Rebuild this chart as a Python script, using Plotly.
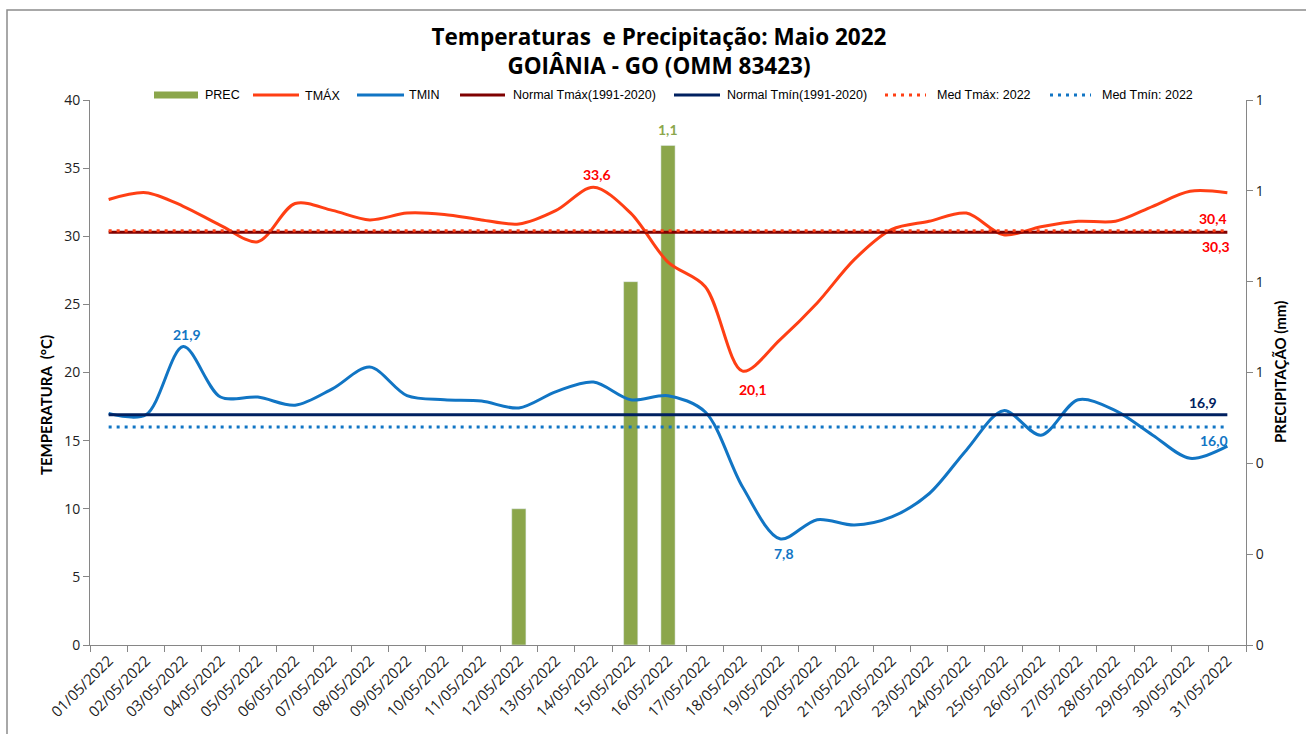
import plotly.graph_objects as go

dates = [f"{d:02d}/05/2022" for d in range(1, 32)]

tmax = [32.7, 33.2, 32.2, 30.8, 29.6, 32.4, 31.9, 31.2, 31.7, 31.6,
        31.2, 30.9, 31.9, 33.6, 31.7, 28.1, 26.3, 20.1, 22.4, 25.1,
        28.3, 30.5, 31.1, 31.7, 30.1, 30.7, 31.1, 31.1, 32.2, 33.3, 33.2]
tmin = [17.0, 16.9, 21.9, 18.2, 18.2, 17.6, 18.8, 20.4, 18.3, 18.0,
        17.9, 17.4, 18.6, 19.3, 18.0, 18.3, 17.1, 11.6, 7.8, 9.2,
        8.8, 9.4, 11.1, 14.3, 17.2, 15.4, 18.0, 17.2, 15.4, 13.7, 14.6]
prec_days = ["12/05/2022", "15/05/2022", "16/05/2022"]
prec_vals = [0.3, 0.8, 1.1]

normal_tmax = 30.3
normal_tmin = 16.9
med_tmax = 30.4
med_tmin = 16.0

series_names = ["PREC", "TMÁX", "TMIN", "Normal Tmáx(1991-2020)", "Normal Tmín(1991-2020)",
                "Med Tmáx: 2022", "Med Tmín: 2022"]

C_TMAX = "#FF3F14"
C_TMIN = "#1175C4"
C_NTMAX = "#7F0000"
C_NTMIN = "#002060"
C_PREC = "#8BA64B"
DOT = "3px,5px"

def fmt(v):
    return f"{v:.1f}".replace(".", ",")

fig = go.Figure()

fig.add_trace(go.Bar(x=prec_days, y=prec_vals, name=series_names[0], marker_color=C_PREC,
                     width=0.38, yaxis="y"))
fig.add_trace(go.Scatter(x=dates, y=tmax, name=series_names[1], mode="lines",
                         line=dict(color=C_TMAX, width=3, shape="spline", smoothing=0.9),
                         yaxis="y2"))
fig.add_trace(go.Scatter(x=dates, y=tmin, name=series_names[2], mode="lines",
                         line=dict(color=C_TMIN, width=3, shape="spline", smoothing=0.9),
                         yaxis="y2"))
fig.add_trace(go.Scatter(x=dates, y=[normal_tmax] * len(dates), name=series_names[3],
                         mode="lines", line=dict(color=C_NTMAX, width=3), yaxis="y2"))
fig.add_trace(go.Scatter(x=dates, y=[normal_tmin] * len(dates), name=series_names[4],
                         mode="lines", line=dict(color=C_NTMIN, width=3), yaxis="y2"))
fig.add_trace(go.Scatter(x=dates, y=[med_tmax] * len(dates), name=series_names[5],
                         mode="lines", line=dict(color=C_TMAX, width=3, dash=DOT), yaxis="y2"))
fig.add_trace(go.Scatter(x=dates, y=[med_tmin] * len(dates), name=series_names[6],
                         mode="lines", line=dict(color=C_TMIN, width=3, dash=DOT), yaxis="y2"))

L, R, T, B = 90, 60, 100, 89
W, H = 1306, 734
pw, ph = W - L - R, H - T - B
def px(xp):
    return (xp - L) / pw
def py(yp):
    return (H - B - yp) / ph

lab_font = dict(family="Lato, Open Sans, sans-serif", size=14)
i_tmax_hi = tmax.index(max(tmax))
i_tmax_lo = tmax.index(min(tmax))
i_tmin_hi = tmin.index(max(tmin))
i_tmin_lo = tmin.index(min(tmin))
ann = [
    dict(x=dates[i_tmax_hi], y=tmax[i_tmax_hi], text=f"<b>{fmt(tmax[i_tmax_hi])}</b>", yanchor="bottom", yshift=2, xshift=4, font=dict(color="#FF0000", **lab_font)),
    dict(x=dates[i_tmax_lo], y=tmax[i_tmax_lo], text=f"<b>{fmt(tmax[i_tmax_lo])}</b>", yanchor="top", yshift=-8, xshift=10, font=dict(color="#FF0000", **lab_font)),
    dict(x=dates[i_tmin_hi], y=tmin[i_tmin_hi], text=f"<b>{fmt(tmin[i_tmin_hi])}</b>", yanchor="bottom", yshift=2, xshift=4, font=dict(color=C_TMIN, **lab_font)),
    dict(x=dates[i_tmin_lo], y=tmin[i_tmin_lo], text=f"<b>{fmt(tmin[i_tmin_lo])}</b>", yanchor="top", yshift=-4, xshift=4, font=dict(color=C_TMIN, **lab_font)),
    dict(x=dates[-1], y=med_tmax, text=f"<b>{fmt(med_tmax)}</b>", yanchor="bottom", yshift=2, xshift=-14, font=dict(color="#FF0000", **lab_font)),
    dict(x=dates[-1], y=normal_tmax, text=f"<b>{fmt(normal_tmax)}</b>", yanchor="top", yshift=-4, xshift=-11, font=dict(color="#FF0000", **lab_font)),
    dict(x=dates[-1], y=normal_tmin, text=f"<b>{fmt(normal_tmin)}</b>", yanchor="bottom", yshift=2, xshift=-24, font=dict(color=C_NTMIN, **lab_font)),
    dict(x=dates[-1], y=med_tmin, text=f"<b>{fmt(med_tmin)}</b>", yanchor="top", yshift=-3, xshift=-13, font=dict(color=C_TMIN, **lab_font)),
]
for a in ann:
    a.update(xref="x", yref="y2", showarrow=False)
ann.append(dict(x=prec_days[-1], y=prec_vals[-1], xref="x", yref="y", text=f"<b>{fmt(prec_vals[-1])}</b>",
                yanchor="bottom", yshift=5, showarrow=False, font=dict(color=C_PREC, **lab_font)))

ax_font = dict(family="Lato, Open Sans, sans-serif", size=15, color="#000")
ann.append(dict(x=px(35), y=py(405), xref="paper", yref="paper", text="<b>TEMPERATURA  (°C)</b>",
                textangle=-90, showarrow=False, font=ax_font))
ann.append(dict(x=px(1291), y=py(372), xref="paper", yref="paper", text="<b>PRECIPITAÇÃO (mm)</b>",
                textangle=-90, showarrow=False, font=ax_font))

# manual legend (symbol x0, x1, text x start) in pixels
leg_y = 95
leg_items = [
    ("bar", C_PREC, None, 154, 198, 203),
    ("line", C_TMAX, None, 253, 299, 303),
    ("line", C_TMIN, None, 357, 404, 407),
    ("line", C_NTMAX, None, 460, 505, 511),
    ("line", C_NTMIN, None, 674, 720, 725),
    ("line", C_TMAX, DOT, 885, 926, 935),
    ("line", C_TMIN, DOT, 1050, 1091, 1100),
]
shapes = [dict(type="rect", xref="paper", yref="paper", x0=px(7), x1=px(1312), y0=py(740), y1=py(10),
               line=dict(color="#8c8c8c", width=1.5), fillcolor="rgba(0,0,0,0)", layer="below")]
for name, (kind, col, dash, x0, x1, xt) in zip(series_names, leg_items):
    if kind == "bar":
        shapes.append(dict(type="rect", xref="paper", yref="paper", x0=px(x0), x1=px(x1),
                           y0=py(leg_y + 3.5), y1=py(leg_y - 3.5), fillcolor=col, line=dict(width=0)))
    else:
        shapes.append(dict(type="line", xref="paper", yref="paper", x0=px(x0), x1=px(x1),
                           y0=py(leg_y), y1=py(leg_y), line=dict(color=col, width=3, dash=dash or "solid")))
    ann.append(dict(x=px(xt), y=py(leg_y), xref="paper", yref="paper", text=name, xanchor="left",
                    yanchor="middle", showarrow=False,
                    font=dict(family="Liberation Sans, Arial, sans-serif", size=12.5, color="#000")))

fig.update_layout(
    width=W, height=H,
    margin=dict(l=L, r=R, t=T, b=B),
    paper_bgcolor="white", plot_bgcolor="white",
    title=dict(text="<b>Temperaturas  e Precipitação: Maio 2022<br>GOIÂNIA - GO (OMM 83423)</b>",
               xref="container", x=659 / W, xanchor="center", y=1 - 45 / H, yanchor="middle",
               font=dict(family="Open Sans, sans-serif", size=22.5, color="#000")),
    showlegend=False,
    xaxis=dict(type="category", categoryorder="array", categoryarray=dates,
               tickangle=-45, tickson="boundaries", ticks="outside", ticklen=6,
               tickcolor="#868686", showline=True, linecolor="#868686", linewidth=1,
               showgrid=False, range=[-0.5, 30.5],
               tickfont=dict(family="Open Sans, sans-serif", size=15, color="#222")),
    yaxis=dict(side="right", range=[0, 1.2], dtick=0.2, tickformat=".0f",
               ticks="outside", ticklen=6, tickcolor="#868686", showline=True,
               linecolor="#868686", showgrid=False, zeroline=False,
               tickfont=dict(family="Open Sans, sans-serif", size=14, color="#222")),
    yaxis2=dict(side="left", overlaying="y", range=[0, 40], dtick=5,
                ticks="outside", ticklen=6, tickcolor="#868686", showline=True,
                linecolor="#868686", showgrid=False, zeroline=False,
                tickfont=dict(family="Open Sans, sans-serif", size=14, color="#222")),
    annotations=ann,
    shapes=shapes,
)

fig.write_html("out.html", config={"displayModeBar": False},
               post_script="document.body.style.margin='0';document.body.style.padding='0';")
